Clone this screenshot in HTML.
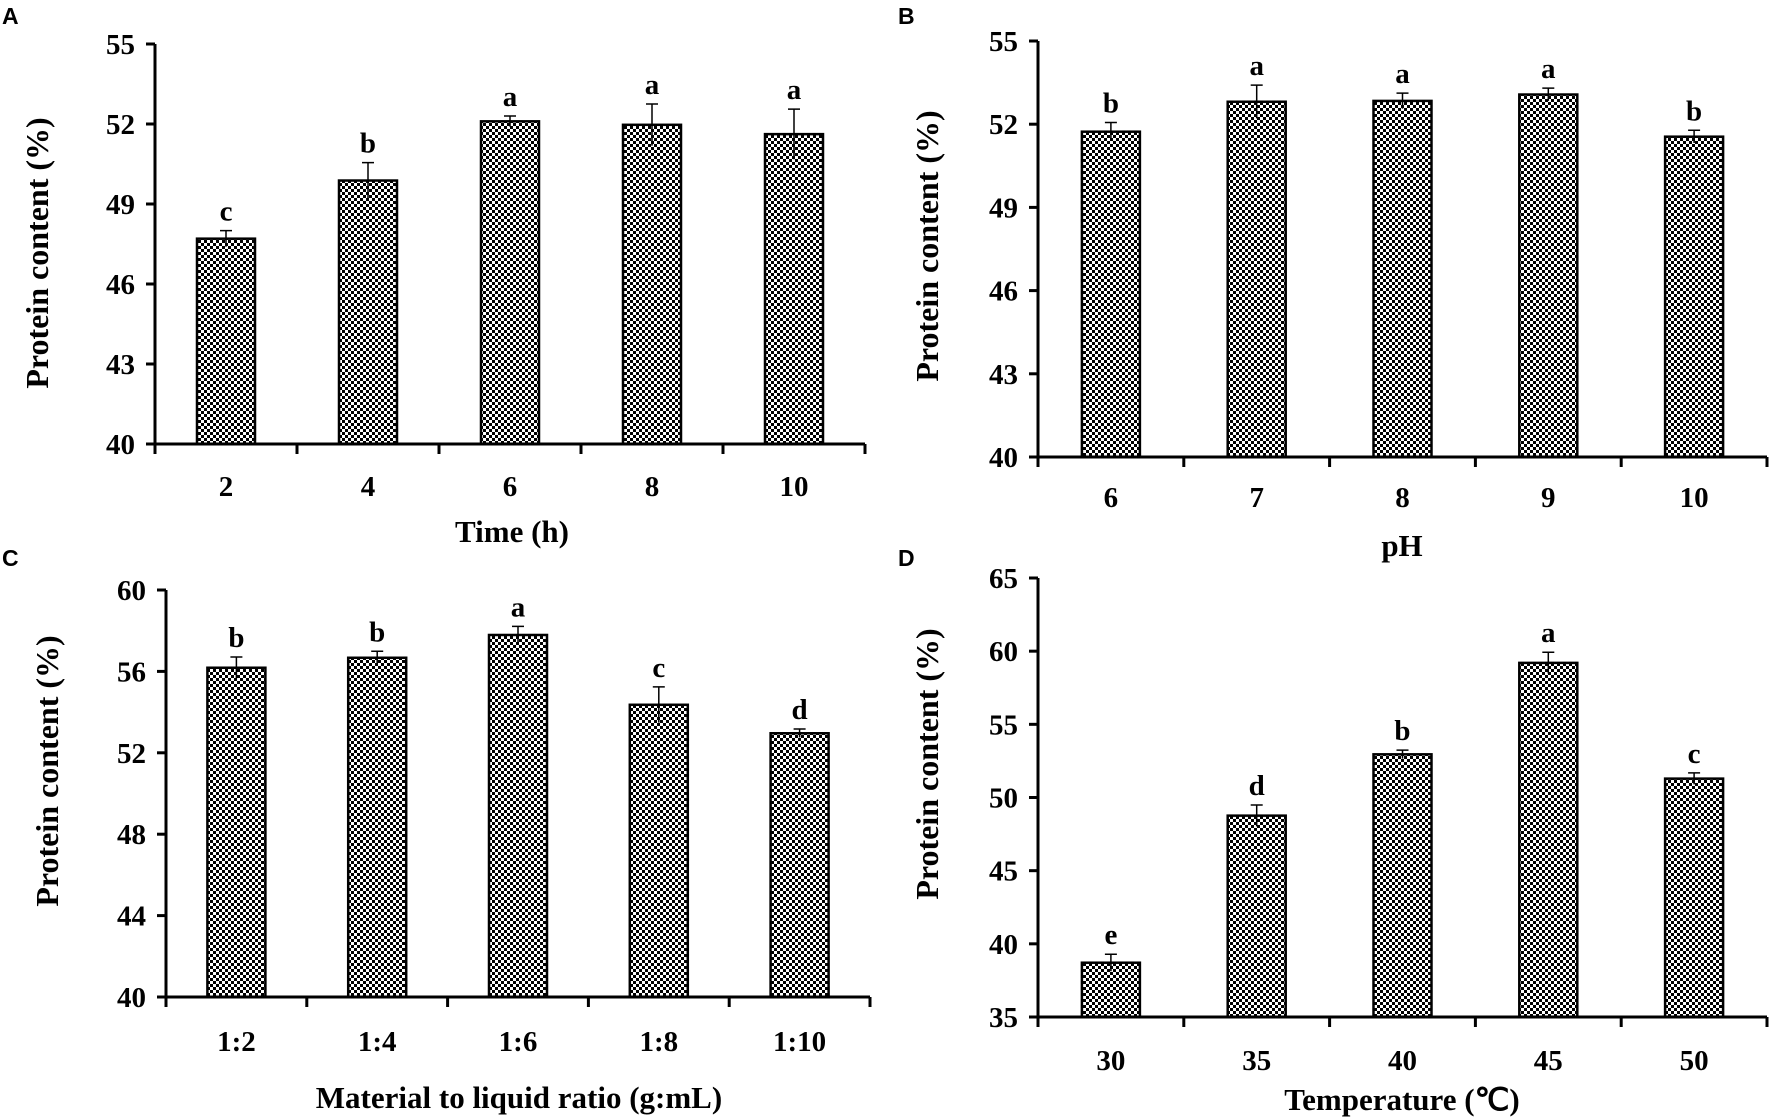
<!DOCTYPE html>
<html><head><meta charset="utf-8"><style>
html,body{margin:0;padding:0;background:#fff;}
svg{display:block;}
text{font-family:"Liberation Serif","Times New Roman",serif;font-weight:bold;fill:#000;}
.pl{font-family:"Liberation Sans",Arial,sans-serif;font-size:23px;}
</style></head><body>
<svg id="chart" width="1772" height="1119" viewBox="0 0 1772 1119" xmlns="http://www.w3.org/2000/svg">
<defs>
<pattern id="chk" width="6" height="6" patternUnits="userSpaceOnUse">
<rect width="6" height="6" fill="#fff"/><rect width="3" height="3" fill="#000"/><rect x="3" y="3" width="3" height="3" fill="#000"/>
</pattern>
</defs>
</svg>
<script>
// Panel A
const catsA = ["2","4","6","8","10"];
const valsA = [47.7, 49.88, 52.1, 51.97, 51.62];
const errA = [0.3, 0.67, 0.2, 0.78, 0.94];
const letA = ["c","b","a","a","a"];
const ticksA = [40,43,46,49,52,55];
// Panel B
const catsB = ["6","7","8","9","10"];
const valsB = [51.73, 52.81, 52.84, 53.07, 51.55];
const errB = [0.33, 0.6, 0.28, 0.23, 0.23];
const letB = ["b","a","a","a","b"];
const ticksB = [40,43,46,49,52,55];
// Panel C
const catsC = ["1:2","1:4","1:6","1:8","1:10"];
const valsC = [56.18, 56.67, 57.79, 54.36, 52.96];
const errC = [0.53, 0.32, 0.42, 0.88, 0.21];
const letC = ["b","b","a","c","d"];
const ticksC = [40,44,48,52,56,60];
// Panel D
const catsD = ["30","35","40","45","50"];
const valsD = [38.71, 48.76, 52.95, 59.2, 51.29];
const errD = [0.58, 0.73, 0.29, 0.73, 0.39];
const letD = ["e","d","b","a","c"];
const ticksD = [35,40,45,50,55,60,65];

const NS = "http://www.w3.org/2000/svg";
const svg = document.getElementById("chart");
function mk(tag, attrs, parent, txt){
  const e = document.createElementNS(NS, tag);
  for (const k in attrs) e.setAttribute(k, attrs[k]);
  if (txt !== undefined) e.textContent = txt;
  (parent||svg).appendChild(e);
  return e;
}
function panel(id, letter, lx, ly, x0, x1, yTop, yBot, ticks, cats, vals, errs, lets, xTitle, xtX, xtY, ytX, ytY, tickLabY){
  const g = mk("g", {});
  
  
  const vmin = ticks[0], vmax = ticks[ticks.length-1];
  const yS = v => yBot - (v - vmin) / (vmax - vmin) * (yBot - yTop);
  const bw = (x1 - x0) / cats.length;
  const xC = i => x0 + bw * (i + 0.5);
  const pl = mk("text", {x: lx, y: ly, class: "pl"}, g, letter);
  
  
  cats.forEach((c, i) => {
    const v = vals[i], w = 58;
    const b = mk("rect", {x: xC(i) - w/2, y: yS(v), width: w, height: yBot - yS(v), fill: "url(#chk)", stroke: "#000", "stroke-width": 2.5}, g);
    
    
    const eTop = yS(v + errs[i]), eBot = yS(v - errs[i]);
    const eb = mk("path", {d: `M${xC(i)},${eBot}V${eTop}M${xC(i)-6},${eTop}H${xC(i)+6}`, stroke: "#000", "stroke-width": 1.5, fill: "none"}, g);
    
    
    const lt = mk("text", {x: xC(i), y: eTop - 10, "text-anchor": "middle", "font-size": 29}, g, lets[i]);
    
    
    const tl = mk("text", {x: xC(i), y: tickLabY, "text-anchor": "middle", "font-size": 29}, g, c);
    
    
  });
  const ax = mk("path", {d: `M${x0},${yTop}V${yBot}H${x1}`, stroke: "#000", "stroke-width": 3, fill: "none"}, g);
  
  
  ticks.forEach(t => {
    mk("line", {x1: x0 - 9, x2: x0, y1: yS(t), y2: yS(t), stroke: "#000", "stroke-width": 3}, g);
    const tl = mk("text", {x: x0 - 20, y: yS(t) + 10, "text-anchor": "end", "font-size": 29}, g, String(t));
    
    
  });
  for (let i = 0; i <= cats.length; i++) {
    mk("line", {x1: x0 + bw*i, x2: x0 + bw*i, y1: yBot, y2: yBot + 10, stroke: "#000", "stroke-width": 3}, g);
  }
  const xt = mk("text", {x: xtX, y: xtY, "text-anchor": "middle", "font-size": 31}, g, xTitle);
  
  
  const yt = mk("text", {x: 0, y: 0, "text-anchor": "middle", "font-size": 32, transform: `translate(${ytX},${ytY}) rotate(-90)`}, g, "Protein content (%)");
  
  
}
panel("a","A",2,24,155,865,44,444,ticksA,catsA,valsA,errA,letA,"Time (h)",512,542,48,253,496);
panel("b","B",898,24,1038,1767,41,457,ticksB,catsB,valsB,errB,letB,"pH",1402,556,938,246,507);
panel("c","C",2,566,166,870,590,997,ticksC,catsC,valsC,errC,letC,"Material to liquid ratio (g:mL)",519,1108,58,771,1051);
panel("d","D",898,566,1038,1767,578,1017,ticksD,catsD,valsD,errD,letD,"Temperature (\u2103)",1402,1110,938,764,1070);
</script>
</body></html>
